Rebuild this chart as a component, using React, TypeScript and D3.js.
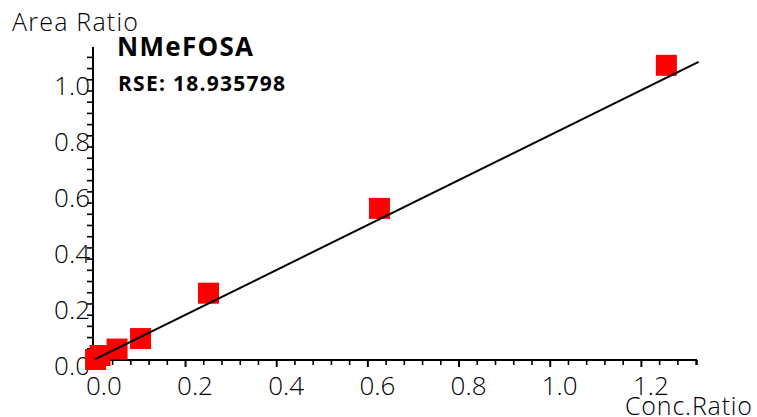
import React from "react";
import * as d3 from "d3";

const concRatio = [0.0026, 0.0125, 0.0498, 0.1013, 0.2504, 0.6254, 1.2548];
const areaRatio = [0.0018, 0.016, 0.039, 0.0765, 0.2384, 0.541, 1.0516];
const fitX = [0, 1.3255];
const fitY = [0.001, 1.064];
const xTickLabels = ["0.0", "0.2", "0.4", "0.6", "0.8", "1.0", "1.2"];
const yTickLabels = ["0.0", "0.2", "0.4", "0.6", "0.8", "1.0"];
const compoundName = "NMeFOSA";
const rseText = "RSE: 18.935798";

const W = 757;
const H = 417;
const FONT = "'Open Sans', 'Noto Sans', sans-serif";

export default function App() {
  const x = d3.scaleLinear().domain([-0.003, 1.322]).range([93, 697]);
  const y = d3.scaleLinear().domain([0, 1.117]).range([360, 47]);

  const xMinor = d3.range(0, 1.3201, 0.04);
  const yMinor = d3.range(0, 1.1001, 0.04);
  const xMajor = xTickLabels.map((t) => +t);
  const yMajor = yTickLabels.map((t) => +t);

  const line = d3
    .line<number>()
    .x((_, i) => x(fitX[i]))
    .y((d) => y(d));

  const sq = 21;

  return (
    <svg
      width={W}
      height={H}
      style={{ position: "fixed", left: 0, top: 0, background: "#fff" }}
      fontFamily={FONT}
    >
      <rect width={W} height={H} fill="#fff" />
      {/* axes */}
      <line x1={x.range()[0]} x2={x.range()[1]} y1={360} y2={360} stroke="#000" strokeWidth={2} />
      <line x1={93} x2={93} y1={y.range()[1]} y2={361} stroke="#000" strokeWidth={2} />
      {xMinor.map((v, i) => {
        const major = Math.abs(v / 0.2 - Math.round(v / 0.2)) < 1e-6;
        return (
          <line
            key={"xt" + i}
            x1={x(v)}
            x2={x(v)}
            y1={360}
            y2={360 + (major ? 7 : 5)}
            stroke="#000"
            strokeWidth={major ? 2 : 1.6}
          />
        );
      })}
      <line x1={x(1.322)} x2={x(1.322)} y1={360} y2={365} stroke="#000" strokeWidth={1.6} />
      {yMinor.map((v, i) => (
        <line
          key={"yt" + i}
          x1={87}
          x2={93}
          y1={y(v)}
          y2={y(v)}
          stroke="#000"
          strokeWidth={1.6}
        />
      ))}
      {xTickLabels.map((t, i) => (
        <text
          key={"xl" + i}
          x={x(xMajor[i]) + 9.5}
          y={395}
          textAnchor="middle"
          fontSize={26}
          fontWeight={300}
          fill="#000"
        >
          {t}
        </text>
      ))}
      {yTickLabels.map((t, i) => (
        <text
          key={"yl" + i}
          x={90}
          y={y(yMajor[i]) + 15}
          textAnchor="end"
          fontSize={26}
          fontWeight={300}
          fill="#000"
        >
          {t}
        </text>
      ))}
      <text x={12} y={31} fontSize={25} fontWeight={300} fill="#000" textLength={126} lengthAdjust="spacing">
        Area Ratio
      </text>
      <text x={625} y={415} fontSize={25} fontWeight={300} fill="#000" textLength={127} lengthAdjust="spacing">
        Conc.Ratio
      </text>
      <text x={117} y={56} fontSize={26} fontWeight={700} fill="#000" textLength={136} lengthAdjust="spacing">
        {compoundName}
      </text>
      <text x={118} y={91} fontSize={21} fontWeight={700} fill="#000" textLength={167} lengthAdjust="spacing">
        {rseText}
      </text>
      {/* points */}
      {concRatio.map((c, i) => (
        <rect
          key={"p" + i}
          x={x(c) - sq / 2}
          y={y(areaRatio[i]) - sq / 2}
          width={sq}
          height={sq}
          fill="#ff0000"
        />
      ))}
      {/* fit line */}
      <path d={line(fitY) || ""} fill="none" stroke="#000" strokeWidth={2} />
    </svg>
  );
}
